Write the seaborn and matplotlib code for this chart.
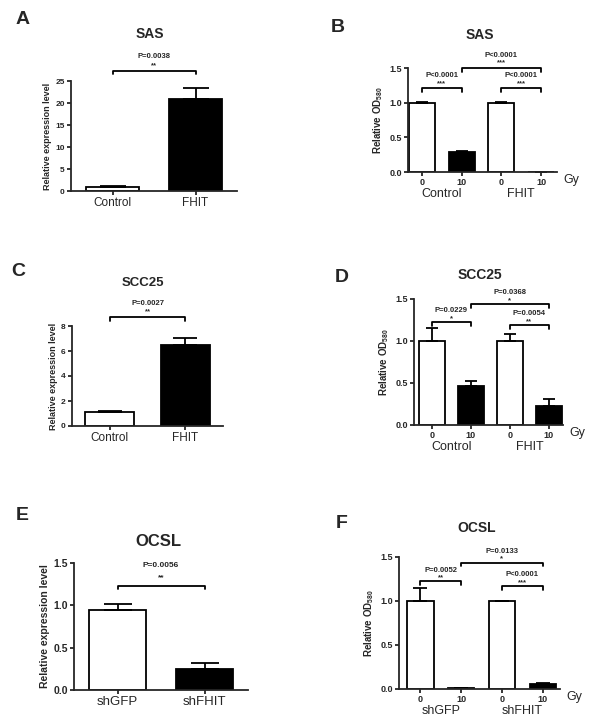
import matplotlib
matplotlib.use('Agg')
import matplotlib.pyplot as plt
import seaborn as sns
import numpy as np
import pandas as pd

# ---- data ----
a_groups = ['Control', 'FHIT']
a_means = [1.0, 21.0]
a_sem = [0.1, 2.5]

c_groups = ['Control', 'FHIT']
c_means = [1.15, 6.5]
c_sem = [0.07, 0.55]

e_groups = ['shGFP', 'shFHIT']
e_means = [0.95, 0.25]
e_sem = [0.07, 0.07]

doses = ['0', '10', '0', '10']
bd_groups = ['Control', 'FHIT']
f_groups = ['shGFP', 'shFHIT']
b_means = [1.0, 0.29, 1.0, 0.005]
b_sem = [0.01, 0.01, 0.01, 0.002]
d_means = [1.0, 0.47, 1.0, 0.23]
d_sem = [0.15, 0.05, 0.08, 0.08]
f_means = [1.0, 0.01, 1.0, 0.06]
f_sem = [0.15, 0.003, 0.005, 0.01]

# brackets: (x1, x2, height, p text, stars)
a_brackets = [(0, 1, 27.3, 'P=0.0038', '**')]
c_brackets = [(0, 1, 8.72, 'P=0.0027', '**')]
e_brackets = [(0, 1, 1.23, 'P=0.0056', '**')]
b_brackets = [(0, 1, 1.21, 'P<0.0001', '***'), (1, 3, 1.5, 'P<0.0001', '***'),
              (2, 3, 1.21, 'P<0.0001', '***')]
d_brackets = [(0, 1, 1.225, 'P=0.0229', '*'), (1, 3, 1.44, 'P=0.0368', '*'),
              (2, 3, 1.19, 'P=0.0054', '**')]
f_brackets = [(0, 1, 1.225, 'P=0.0052', '**'), (1, 3, 1.436, 'P=0.0133', '*'),
              (2, 3, 1.17, 'P<0.0001', '***')]

sns.set_style('ticks')
plt.rcParams['font.family'] = ['Liberation Sans', 'DejaVu Sans']
plt.rcParams['mathtext.fontset'] = 'custom'
plt.rcParams['mathtext.rm'] = 'Liberation Sans:bold'
plt.rcParams['mathtext.bf'] = 'Liberation Sans:bold'

W, H = 600, 725
fig = plt.figure(figsize=(6, 7.25), dpi=100)
BAR_W = 0.65
LW = 1.3


def px_axes(l, r, t, b):
    return fig.add_axes([l / W, 1 - b / H, (r - l) / W, (b - t) / H])


def style_axes(ax, ytick_fs):
    sns.despine(ax=ax)
    for s in ['left', 'bottom']:
        ax.spines[s].set_linewidth(LW)
    ax.tick_params(axis='both', direction='out', length=3, width=LW, pad=1.5)
    for lab in ax.get_yticklabels():
        lab.set_fontweight('bold')
        lab.set_fontsize(ytick_fs)


def bars(ax, names, means, sem, colors, xlim, ylim, px_w):
    df = pd.DataFrame({'name': names, 'mean': means, 'fill': colors})
    sns.barplot(data=df, x='name', y='mean', hue='fill', ax=ax, errorbar=None,
                palette={'w': 'white', 'k': 'black'}, edgecolor='black',
                linewidth=LW, width=BAR_W, dodge=False, legend=False)
    n = len(means)
    cap = 0.25 * BAR_W * px_w / (xlim[1] - xlim[0]) * 0.72
    ax.errorbar(np.arange(n), means, yerr=[np.zeros(n), sem], fmt='none',
                ecolor='black', elinewidth=LW, capsize=cap, capthick=LW, zorder=1)
    ax.set_xlim(*xlim)
    ax.set_ylim(*ylim)
    ax.set_xlabel('')


def brackets(ax, items, px_h, fs, p_off, s_off):
    y0, y1 = ax.get_ylim()
    drop = (y1 - y0) * 3.5 / px_h
    for x1, x2, h, ptxt, stars in items:
        ax.plot([x1, x1, x2, x2], [h - drop, h, h, h - drop], color='black',
                lw=LW, clip_on=False)
        xm = (x1 + x2) / 2
        ax.annotate(ptxt, (xm, h), xytext=(0, p_off), textcoords='offset points',
                    ha='center', va='center', fontsize=fs, fontweight='bold',
                    annotation_clip=False)
        ax.annotate(stars, (xm, h), xytext=(0, s_off), textcoords='offset points',
                    ha='center', va='center', fontsize=fs, fontweight='bold',
                    annotation_clip=False)


def two_group(l, r, t, b, groups, means, sem, ylim, yticks, title, title_xy, title_fs,
              letter, letter_xy, br, ytick_fs, xtick_fs, ylab_fs, p_fs, p_off, s_off):
    ax = px_axes(l, r, t, b)
    bars(ax, groups, means, sem, ['w', 'k'], (-0.5, 1.5), ylim, r - l)
    ax.set_yticks(yticks)
    ax.set_xticks([0, 1])
    ax.set_xticklabels(groups, fontsize=xtick_fs)
    ax.set_ylabel('Relative expression level', fontsize=ylab_fs, fontweight='bold',
                  labelpad=2)
    style_axes(ax, ytick_fs)
    brackets(ax, br, b - t, p_fs, p_off, s_off)
    fig.text(title_xy[0] / W, 1 - title_xy[1] / H, title, ha='center', va='center',
             fontsize=title_fs, fontweight='bold')
    fig.text(letter_xy[0] / W, 1 - letter_xy[1] / H, letter, ha='center', va='center',
             fontsize=14, fontweight='bold')
    return ax


def four_group(l, r, t, b, groups, means, sem, xlim, title, title_xy, letter,
               letter_xy, br, p_off, s_off):
    ax = px_axes(l, r, t, b)
    names = [g + ' ' + d for g in groups for d in ['0', '10']]
    bars(ax, names, means, sem, ['w', 'k', 'w', 'k'], xlim, (0, 1.5), r - l)
    ax.set_yticks([0.0, 0.5, 1.0, 1.5])
    ax.set_yticklabels(['0.0', '0.5', '1.0', '1.5'])
    ax.set_xticks(range(4))
    ax.set_xticklabels(doses, fontsize=6.5, fontweight='bold')
    ax.set_ylabel(r'Relative OD$_{580}$', fontsize=7, fontweight='bold', labelpad=3)
    style_axes(ax, 6.5)
    for i, g in enumerate(groups):
        ax.annotate(g, (2 * i + 0.5, 0), xycoords=('data', 'axes fraction'),
                    xytext=(0, -16), textcoords='offset points', ha='center',
                    va='center', fontsize=9)
    ax.annotate('Gy', (1, 0), xycoords='axes fraction', xytext=(10, -6),
                textcoords='offset points', ha='center', va='center', fontsize=9)
    brackets(ax, br, b - t, 5.5, p_off, s_off)
    fig.text(title_xy[0] / W, 1 - title_xy[1] / H, title, ha='center', va='center',
             fontsize=10, fontweight='bold')
    fig.text(letter_xy[0] / W, 1 - letter_xy[1] / H, letter, ha='center', va='center',
             fontsize=14, fontweight='bold')
    return ax


two_group(71, 237, 81, 191, a_groups, a_means, a_sem, (0, 25), [0, 5, 10, 15, 20, 25],
          'SAS', (150, 34), 10, 'A', (23, 20), a_brackets, 6, 8.5, 6.5, 5.5, 10, 3.5)
two_group(72, 223, 326, 426, c_groups, c_means, c_sem, (0, 8), [0, 2, 4, 6, 8],
          'SCC25', (143, 283), 9.5, 'C', (18, 272), c_brackets, 6, 8.5, 6.5, 5.5, 10, 3.5)
two_group(74, 248, 563, 690, e_groups, e_means, e_sem, (0, 1.5), [0.0, 0.5, 1.0, 1.5],
          'OCSL', (158, 542), 12, 'E', (22, 515), e_brackets, 7.5, 9.5, 7.5, 6, 15, 5.5)

four_group(408, 557, 68, 172, bd_groups, b_means, b_sem, (-0.35, 3.4), 'SAS', (480, 35),
           'B', (338, 27), b_brackets, 9, 3.5)
four_group(414, 563, 299, 425, bd_groups, d_means, d_sem, (-0.46, 3.36), 'SCC25', (480, 275),
           'D', (342, 277), d_brackets, 8, 2.5)
four_group(399, 560, 557, 689, f_groups, f_means, f_sem, (-0.52, 3.42), 'OCSL', (477, 528),
           'F', (342, 523), f_brackets, 8, 2.5)

fig.savefig('out.png', dpi=100)
